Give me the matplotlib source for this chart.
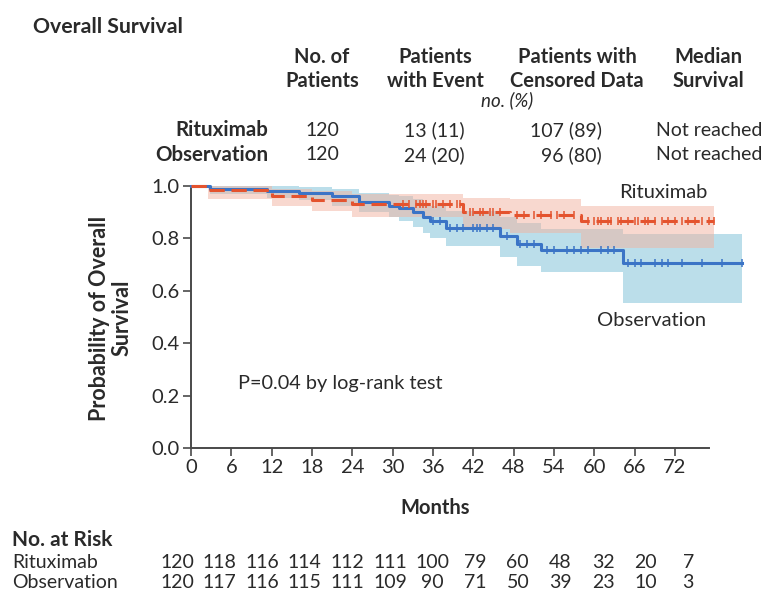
import matplotlib
matplotlib.use("Agg")
import matplotlib.pyplot as plt
import numpy as np

plt.rcParams['font.family'] = ['Lato', 'DejaVu Sans']

# ---- Kaplan-Meier step data (months, survival probability) ----
rit_times = [0, 2.5, 12, 18, 24, 40.5, 47.5, 58]
rit_surv = [1.0, 0.983, 0.962, 0.947, 0.931, 0.90, 0.89, 0.865]
rit_hi = [1.0, 1.0, 0.99, 0.98, 0.97, 0.955, 0.95, 0.925]
rit_lo = [1.0, 0.95, 0.925, 0.905, 0.88, 0.835, 0.82, 0.765]
rit_end = 77.8
rit_censor = [31.5, 32.5, 33.5, 34, 34.5, 35, 36, 36.5, 37.5, 38.5, 39.5, 40,
              41.5, 42, 43, 43.5, 44.5, 45, 46,
              48.5, 49.5, 51, 52, 53.5, 54.5, 55.5, 57,
              59, 60, 60.5, 61, 62, 62.5, 63.5, 64, 65, 66, 66.5, 67.5, 68,
              69, 70, 71, 72, 73, 74, 75, 76, 77, 77.8]

obs_times = [0, 2.8, 11.3, 16, 21, 25, 29.5, 31, 33, 34.5, 35.5, 38, 46, 48.5, 52, 64.3]
obs_surv = [1.0, 0.99, 0.98, 0.975, 0.96, 0.94, 0.925, 0.915, 0.90, 0.88, 0.865,
            0.84, 0.81, 0.78, 0.755, 0.705]
obs_hi = [1.0, 1.0, 1.0, 0.995, 0.99, 0.975, 0.965, 0.96, 0.95, 0.935, 0.925,
          0.905, 0.88, 0.86, 0.835, 0.815]
obs_lo = [1.0, 0.97, 0.955, 0.945, 0.925, 0.90, 0.88, 0.865, 0.845, 0.82, 0.80,
          0.77, 0.73, 0.695, 0.67, 0.555]
obs_end = 82
obs_censor = [36, 37, 38.5, 39.5, 40.5, 42, 42.5, 43, 44, 45,
              47, 49, 50, 51,
              53, 54, 56, 57, 58, 59, 61, 62, 63,
              65, 66, 67, 69, 70, 71, 73, 76, 79, 82]

# ---- Summary table ----
groups = ["Rituximab", "Observation"]
n_patients = ["120", "120"]
with_event = ["13 (11)", "24 (20)"]
censored = ["107 (89)", "96 (80)"]
median_surv = ["Not reached", "Not reached"]

# ---- Number at risk ----
risk_months = [0, 6, 12, 18, 24, 30, 36, 42, 48, 54, 60, 66, 72]
risk_rit = [120, 118, 116, 114, 112, 111, 100, 79, 60, 48, 32, 20, 7]
risk_obs = [120, 117, 116, 115, 111, 109, 90, 71, 50, 39, 23, 10, 3]

RED = "#e4532e"
BLUE = "#3b74c6"
RED_BAND = "#f2b3a0"
BLUE_BAND = "#9fd0e2"
AX = "#4a4a4a"
TXT = "#2a2a2a"

W, H = 776, 600
fig = plt.figure(figsize=(W / 100, H / 100), dpi=100)


def fx(x):
    return x / W


def fy(y):
    return 1 - y / H


ax = fig.add_axes([fx(191), fy(448), 84 * 6.722 / W, 262 / H])
ax.set_xlim(0, 84)
ax.set_ylim(0, 1.0)


def step_xy(times, vals, end):
    t = list(times) + [end]
    v = list(vals) + [vals[-1]]
    return t, v


def surv_at(times, vals, t):
    idx = np.searchsorted(times, t, side='right') - 1
    return np.asarray(vals)[idx]


# confidence bands
t, lo = step_xy(obs_times, obs_lo, obs_end)
_, hi = step_xy(obs_times, obs_hi, obs_end)
ax.fill_between(t, lo, hi, step='post', color=BLUE_BAND, alpha=0.7, lw=0)
t, lo = step_xy(rit_times, rit_lo, rit_end)
_, hi = step_xy(rit_times, rit_hi, rit_end)
ax.fill_between(t, lo, hi, step='post', color=RED_BAND, alpha=0.5, lw=0)

# survival curves
t, v = step_xy(obs_times, obs_surv, obs_end)
ax.step(t, v, where='post', color=BLUE, lw=2.2, clip_on=False, zorder=4)
t, v = step_xy(rit_times, rit_surv, rit_end)
ax.step(t, v, where='post', color=RED, lw=2.2, ls=(0, (5, 2.2)), clip_on=False, zorder=5)

# censoring marks
ax.plot(obs_censor, surv_at(obs_times, obs_surv, obs_censor), ls='none', marker='|',
        ms=6, mew=1.1, color=BLUE, clip_on=False, zorder=4)
ax.plot(rit_censor, surv_at(rit_times, rit_surv, rit_censor), ls='none', marker='|',
        ms=6, mew=1.1, color=RED, clip_on=False, zorder=5)

# axes styling
for s in ['top', 'right']:
    ax.spines[s].set_visible(False)
for s in ['left', 'bottom']:
    ax.spines[s].set_color(AX)
    ax.spines[s].set_linewidth(1.4)
ax.spines['bottom'].set_bounds(0, 77)
ax.set_xticks(risk_months)
ax.set_yticks(np.arange(0, 1.01, 0.2))
ax.set_yticklabels([f"{v:.1f}" for v in np.arange(0, 1.01, 0.2)])
ax.tick_params(direction='out', length=6, width=1.2, color=AX, labelsize=14.5,
               labelcolor=TXT, pad=2)

fig.text(fx(663), fy(193), "Rituximab", ha='center', va='center', fontsize=14.5, color=TXT)
fig.text(fx(652), fy(320), "Observation", ha='center', va='center', fontsize=14.5, color=TXT)
fig.text(fx(238), fy(383), "P=0.04 by log-rank test", ha='left', va='center',
         fontsize=14.3, color=TXT)

fig.text(fx(111), fy(318), "Probability of Overall\nSurvival", rotation=90,
         ha='center', va='center', multialignment='center', fontsize=15.5,
         fontweight='bold', color=TXT, linespacing=1.1)
fig.text(fx(435), fy(508), "Months", ha='center', va='center', fontsize=14.5,
         fontweight='bold', color=TXT)

# title and summary table
fig.text(fx(33), fy(27), "Overall Survival", ha='left', va='center', fontsize=15.3,
         fontweight='bold', color=TXT)
headers = [(322, "No. of\nPatients"), (435, "Patients\nwith Event"),
           (577, "Patients with\nCensored Data"), (708, "Median\nSurvival")]
for x, h in headers:
    fig.text(fx(x), fy(69), h, ha='center', va='center', multialignment='center',
             fontsize=14.5, fontweight='bold', color=TXT, linespacing=1.2)
fig.text(fx(507), fy(100), "no. (%)", ha='center', va='center', fontsize=13.5,
         style='italic', color=TXT)
row_y = [130, 155]
for i, g in enumerate(groups):
    y = fy(row_y[i])
    fig.text(fx(268), y, g, ha='right', va='center', fontsize=14.8, fontweight='bold', color=TXT)
    fig.text(fx(322), y, n_patients[i], ha='center', va='center', fontsize=14, color=TXT)
    fig.text(fx(434), y, with_event[i], ha='center', va='center', fontsize=14, color=TXT)
    fig.text(fx(602), y, censored[i], ha='right', va='center', fontsize=14, color=TXT)
    fig.text(fx(709), y, median_surv[i], ha='center', va='center', fontsize=14, color=TXT)

# number at risk
fig.text(fx(12), fy(540), "No. at Risk", ha='left', va='center', fontsize=15,
         fontweight='bold', color=TXT)
risk_x0, risk_dx = 177, 42.6
for y, name, vals in [(562, "Rituximab", risk_rit), (583, "Observation", risk_obs)]:
    fig.text(fx(12), fy(y), name, ha='left', va='center', fontsize=14, color=TXT)
    for i, n in enumerate(vals):
        fig.text(fx(risk_x0 + i * risk_dx), fy(y), str(n), ha='center', va='center',
                 fontsize=14, color=TXT)

fig.savefig("out.png", dpi=100, facecolor='white')
